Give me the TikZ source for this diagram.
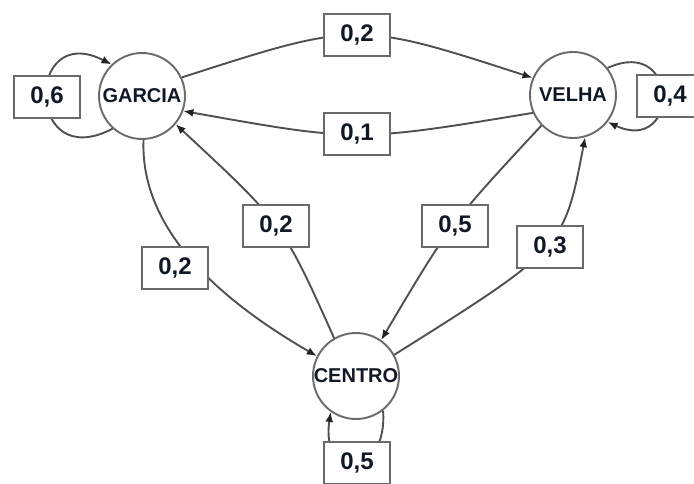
\documentclass[tikz,border=0pt]{standalone}
\usepackage{fontspec}
\setmainfont{Liberation Sans}
\usetikzlibrary{arrows.meta}
\definecolor{edgegray}{HTML}{505050}
\definecolor{boxgray}{HTML}{6A6A6A}
\definecolor{tipcol}{HTML}{222222}
\definecolor{txt}{HTML}{101828}
\tikzset{
  state/.style={circle, draw=boxgray, line width=1.9pt, fill=white, minimum size=86pt, inner sep=0pt,
    font=\fontsize{20}{20}\selectfont\bfseries, text=txt},
  prob/.style={rectangle, draw=boxgray, line width=2.2pt, fill=white, minimum width=66pt, minimum height=42pt,
    inner sep=0pt, font=\fontsize{24}{24}\selectfont\bfseries, text=txt},
  edge/.style={draw=edgegray, line width=1.9pt, -{Latex[length=10pt,width=8pt,fill=tipcol,color=tipcol]}},
}
\begin{document}
\begin{tikzpicture}[x=1pt,y=-1pt]
\useasboundingbox (0,0) rectangle (694,484);
\node[state] (G) at (142,96) {GARCIA};
\node[state] (V) at (573,95) {VELHA};
\node[state] (C) at (356,376) {CENTRO};
% edges
\draw[edge] (G.25) .. controls (357,21) .. (V.157);
\draw[edge] (V.204) .. controls (357,142) .. (G.-20);
\draw[edge] (G.-88) .. controls (140,230) and (220,300) .. (C.153);
\draw[edge] (C.120) .. controls (283,224) .. (G.-40);
\draw[edge] (V.224) .. controls (450,224) .. (C.55);
\draw[edge] (C.29) .. controls (564,248) .. (V.-74);
% self loops
\draw[edge] (G.228) .. controls (25,175) and (25,20) .. (G.134);
\draw[edge] (V.38) .. controls (680,35) and (680,155) .. (V.-38);
\draw[edge] (C.-52) .. controls (388,480) and (320,480) .. (C.235);
% labels
\node[prob] (l1) at (357,35) {0,2};
\node[prob] (l2) at (357,134) {0,1};
\node[prob] (l3) at (175,268) {0,2};
\node[prob] (l4) at (276,226) {0,2};
\node[prob] (l5) at (455,226) {0,5};
\node[prob] (l6) at (550,247) {0,3};
\node[prob] (l7) at (47,97) {0,6};
\node[prob] (l8) at (670,96) {0,4};
\node[prob] (l9) at (357,463) {0,5};
\end{tikzpicture}
\end{document}
